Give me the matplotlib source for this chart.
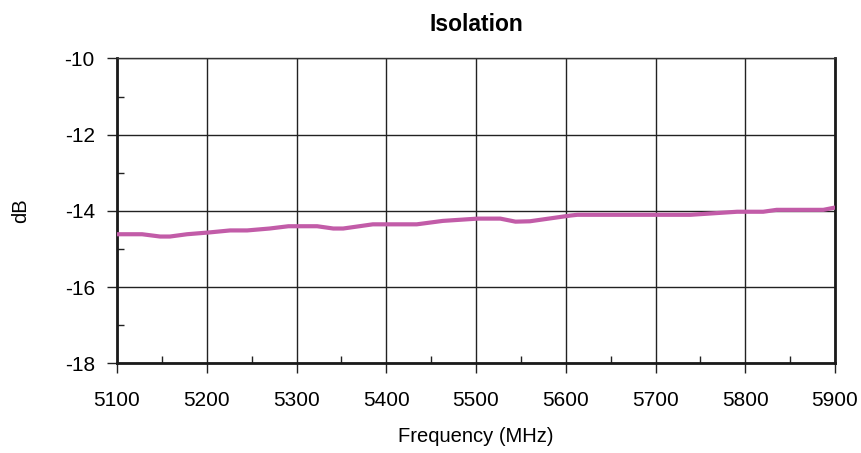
import matplotlib
matplotlib.use("Agg")
import matplotlib.pyplot as plt
from matplotlib.ticker import MultipleLocator

plt.rcParams['font.family'] = ['Liberation Sans', 'DejaVu Sans']
plt.rcParams['axes.unicode_minus'] = False

# Isolation curve
freq_mhz = [5100, 5128, 5148, 5159, 5178, 5204, 5226, 5245, 5270, 5291,
            5323, 5341, 5352, 5385, 5434, 5463, 5502, 5527, 5544, 5560,
            5605, 5613, 5739, 5791, 5820, 5835, 5887, 5900]
isolation_db = [-14.61, -14.61, -14.67, -14.67, -14.61, -14.56, -14.51, -14.51, -14.46, -14.40,
                -14.40, -14.46, -14.46, -14.35, -14.35, -14.26, -14.20, -14.20, -14.28, -14.27,
                -14.12, -14.10, -14.10, -14.02, -14.02, -13.97, -13.97, -13.91]

fig = plt.figure(figsize=(8.61, 4.53), dpi=100)
ax = fig.add_axes([0.1359, 0.1976, 0.8339, 0.6733])

ax.plot(freq_mhz, isolation_db, color='#c25ca8', lw=3.0, solid_capstyle='round', zorder=3)

ax.set_xlim(5100, 5900)
ax.set_ylim(-18, -10)
ax.xaxis.set_major_locator(MultipleLocator(100))
ax.xaxis.set_minor_locator(MultipleLocator(50))
ax.yaxis.set_major_locator(MultipleLocator(2))
ax.yaxis.set_minor_locator(MultipleLocator(1))

ax.grid(True, which='major', color='#222222', lw=1.0)
ax.tick_params(which='major', direction='out', length=7, width=1.0, color='#222222',
               labelsize=15)
ax.tick_params(axis='x', which='major', pad=13)
ax.tick_params(axis='y', which='major', pad=9)
ax.tick_params(which='minor', direction='in', length=5, width=1.0, color='#222222')

for side in ['left', 'bottom', 'right']:
    ax.spines[side].set_linewidth(2.0)
    ax.spines[side].set_color('#1a1a1a')
ax.spines['top'].set_linewidth(1.0)
ax.spines['top'].set_color('#333333')

ax.set_title('Isolation', fontsize=16.5, fontweight='bold', pad=20)
ax.set_xlabel('Frequency (MHz)', fontsize=14.5, labelpad=12)
ax.set_ylabel('dB', fontsize=14.5, labelpad=25)

fig.savefig('out.png', dpi=100)
